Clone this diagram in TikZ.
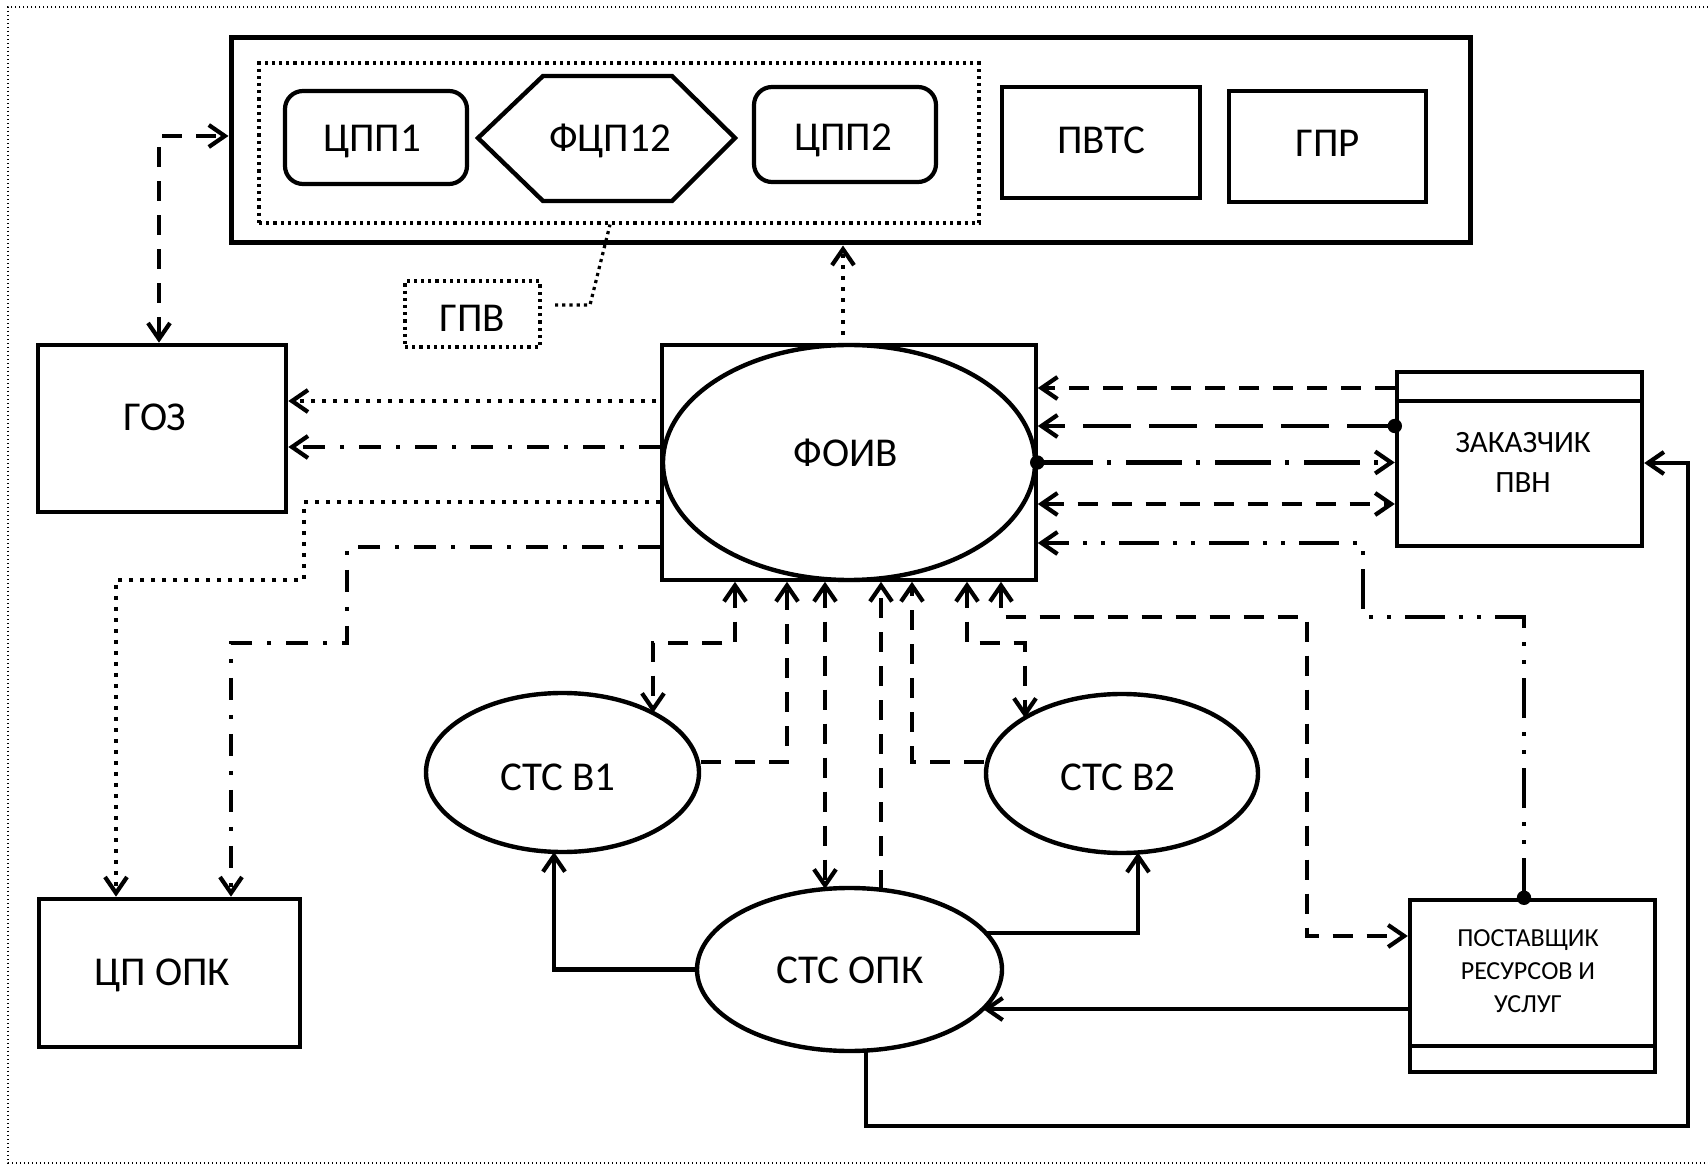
\documentclass[tikz,border=0pt]{standalone}
\usepackage{fontspec}
\setmainfont{Carlito}
\usetikzlibrary{arrows.meta,shapes.geometric}
\begin{document}
\begin{tikzpicture}[x=0.5pt,y=-0.5pt,
  >={Straight Barb[length=8pt,width=11pt]},
  lbl/.style={font=\fontsize{20.5}{24}\selectfont, inner sep=0pt, text depth=0pt},
  sbox/.style={draw, line width=2.3pt, inner sep=0pt, rectangle},
  rbox/.style={draw, line width=2.1pt, inner sep=0pt, rectangle, rounded corners=9pt},
  dotbox/.style={draw, line width=1.6pt, dash pattern=on 1.6pt off 2pt, inner sep=0pt, rectangle},
  ellnode/.style={draw, ellipse, line width=2.2pt, inner sep=0pt},
  conn/.style={line width=2.1pt},
  csolid/.style={conn},
  cdash/.style={conn, dash pattern=on 10pt off 7pt},
  clongdash/.style={conn, dash pattern=on 24pt off 9pt},
  cdot/.style={conn, dash pattern=on 2pt off 3.5pt},
  cdashdot/.style={conn, dash pattern=on 11pt off 7.5pt on 2pt off 7.5pt},
  clongdashdot/.style={conn, dash pattern=on 28pt off 7pt on 2pt off 7.5pt},
  cdashdotdot/.style={conn, dash pattern=on 20pt off 7pt on 2pt off 7pt on 2pt off 7pt},
  cdotfine/.style={line width=1.6pt, dash pattern=on 1.6pt off 2pt}
]
\useasboundingbox (0,0) rectangle (1708,1165);
% outer dotted frame
\draw[line width=0.7pt, dash pattern=on 0.7pt off 1.3pt] (1708,7) -- (8,7) -- (8,1163) -- (1708,1163);

% top block
\node[sbox, line width=2.5pt, minimum width=619.5pt, minimum height=102.5pt] (big) at (850.5,140.5) {};
\node[dotbox, minimum width=360pt, minimum height=80pt] (grp) at (619,143) {};
\node[rbox, minimum width=91pt, minimum height=46.5pt] (cpp1) at (376,137.5) {};
\node[lbl] (cpp1t) at (372,138) {ЦПП1};
\draw[line width=2.2pt, line join=miter] (478,138) -- (543,76) -- (672,76) -- (735,138) -- (672,201) -- (543,201) -- cycle;
\node[lbl] (fcp) at (610,138) {ФЦП12};
\node[rbox, minimum width=91pt, minimum height=47.5pt] (cpp2) at (845,134.5) {};
\node[lbl] (cpp2t) at (843,137) {ЦПП2};
\node[sbox, minimum width=99pt, minimum height=55.5pt] (pvts) at (1101,142.5) {};
\node[lbl] (pvtst) at (1101,140) {ПВТС};
\node[sbox, minimum width=98.5pt, minimum height=55.5pt] (gpr) at (1327.5,146.5) {};
\node[lbl] (gprt) at (1327.5,143) {ГПР};

% ГПВ
\node[dotbox, minimum width=67.5pt, minimum height=33pt] (gpv) at (472.5,314) {};
\node[lbl] (gpvt) at (472.5,318) {ГПВ};

% ГОЗ
\node[sbox, minimum width=124pt, minimum height=83.5pt] (goz) at (162,428.5) {};
\node[lbl] (gozt) at (155,417) {ГОЗ};

% ФОИВ
\node[draw, rectangle, line width=1.8pt, inner sep=0pt, minimum width=187pt, minimum height=117.5pt] (foivb) at (849,462.5) {};
\node[ellnode, minimum width=186pt, minimum height=117.5pt] (foiv) at (849,462.5) {};
\node[lbl] (foivt) at (846,453) {ФОИВ};

% ЗАКАЗЧИК ПВН
\node[sbox, line width=2.2pt, minimum width=122.5pt, minimum height=87pt] (zak) at (1519.5,459) {};
\draw[line width=2.2pt] (zak.west |- 0,401) -- (zak.east |- 0,401);
\node[align=center, inner sep=0pt, font=\fontsize{15.5}{20}\selectfont] (zakt) at (1523,462) {ЗАКАЗЧИК\\ПВН};

% ПОСТАВЩИК
\node[sbox, line width=2.2pt, minimum width=122.5pt, minimum height=86pt] (post) at (1532.5,986) {};
\draw[line width=2.2pt] (post.west |- 0,1046) -- (post.east |- 0,1046);
\node[align=center, inner sep=0pt, font=\fontsize{13}{16.5}\selectfont] (postt) at (1528,971) {ПОСТАВЩИК\\РЕСУРСОВ И\\УСЛУГ};

% ЦП ОПК
\node[sbox, minimum width=130.5pt, minimum height=74pt] (cpopk) at (169.5,973) {};
\node[lbl] (cpopkt) at (162,972) {ЦП ОПК};

% ellipses
\node[ellnode, minimum width=136.5pt, minimum height=79.5pt] (b1) at (562.5,772.5) {};
\node[lbl] (b1t) at (558,777) {СТС В1};
\node[ellnode, minimum width=136pt, minimum height=79.5pt] (b2) at (1122,773.5) {};
\node[lbl] (b2t) at (1118,777) {СТС В2};
\node[ellnode, minimum width=152.5pt, minimum height=81.5pt] (opk) at (849.5,969.5) {};
\node[lbl] (opkt) at (850,970) {СТС ОПК};

% boundary points
\coordinate (gpvout) at (555,305);
\coordinate (b1a) at (653,713);
\coordinate (b2a) at (1025,718);
\coordinate (opkc) at (825,889);
\coordinate (opkd) at (881,890);
\coordinate (opkr) at (986,933);
\coordinate (opkp) at (983,1009);
\coordinate (opkb) at (866,1050);
\coordinate (b1b) at (554,852);
\coordinate (b2b) at (1138,852.5);

% connectors top
\draw[cdash,<->] (159,0 |- goz.north) -- (159,136) -- (big.west |- 0,136);
\draw[cdotfine] (gpvout) -- (590,305) -- (610,0 |- grp.south);
\draw[cdot,->] (843,335) -- (843,0 |- big.south);

% left side
\draw[cdot,->] (656,401) -- (goz.east |- 0,401);
\draw[cdashdot,->] (foiv.west |- 0,447) -- (goz.east |- 0,447);
\draw[cdot,->] (foivb.west |- 0,502) -- (304,502) -- (304,580) -- (116,580) -- (116,0 |- cpopk.north);
\draw[cdashdot,->] (foivb.west |- 0,547) -- (347,547) -- (347,643) -- (231,643) -- (231,0 |- cpopk.north);

% right side
\draw[cdash,->] (zak.west |- 0,388) -- (foivb.east |- 0,388);
\draw[clongdash,->] (zak.west |- 0,426) -- (foivb.east |- 0,426);
\fill (zak.west |- 0,426) circle[radius=3.6pt];
\draw[clongdashdot,->] (foiv.east) -- (zak.west |- foiv.east);
\fill (foiv.east) circle[radius=3.6pt];
\draw[cdash,<->] (foivb.east |- 0,504) -- (zak.west |- 0,504);
\draw[cdashdotdot,->] (1524,0 |- post.north) -- (1524,617) -- (1363,617) -- (1363,543) -- (foivb.east |- 0,543);
\fill (1524,0 |- post.north) circle[radius=3.6pt];

% bottom of ФОИВ
\draw[cdash,<->] (735,0 |- foivb.south) -- (735,643) -- (653,643) -- (b1a);
\draw[cdash,->] (b1.east |- 0,762) -- (787,762) -- (787,0 |- foivb.south);
\draw[cdash,<->] (825,0 |- foivb.south) -- (opkc);
\draw[cdash,->] (opkd) -- (881,0 |- foivb.south);
\draw[cdash,->] (b2.west |- 0,762) -- (912,762) -- (912,0 |- foivb.south);
\draw[cdash,<->] (967,0 |- foivb.south) -- (967,643) -- (1025,643) -- (b2a);
\draw[cdash,<->] (1001,0 |- foivb.south) -- (1001,617) -- (1307,617) -- (1307,936) -- (post.west |- 0,936);

% solid
\draw[csolid,->] (opk.west) -- (554,0 |- opk.west) -- (b1b);
\draw[csolid,->] (opkr) -- (1138,933) -- (b2b);
\draw[csolid,->] (post.west |- 0,1009) -- (opkp);
\draw[csolid,->] (opkb) -- (866,1126) -- (1688,1126) -- (1688,463) -- (zak.east |- 0,463);
\end{tikzpicture}
\end{document}
